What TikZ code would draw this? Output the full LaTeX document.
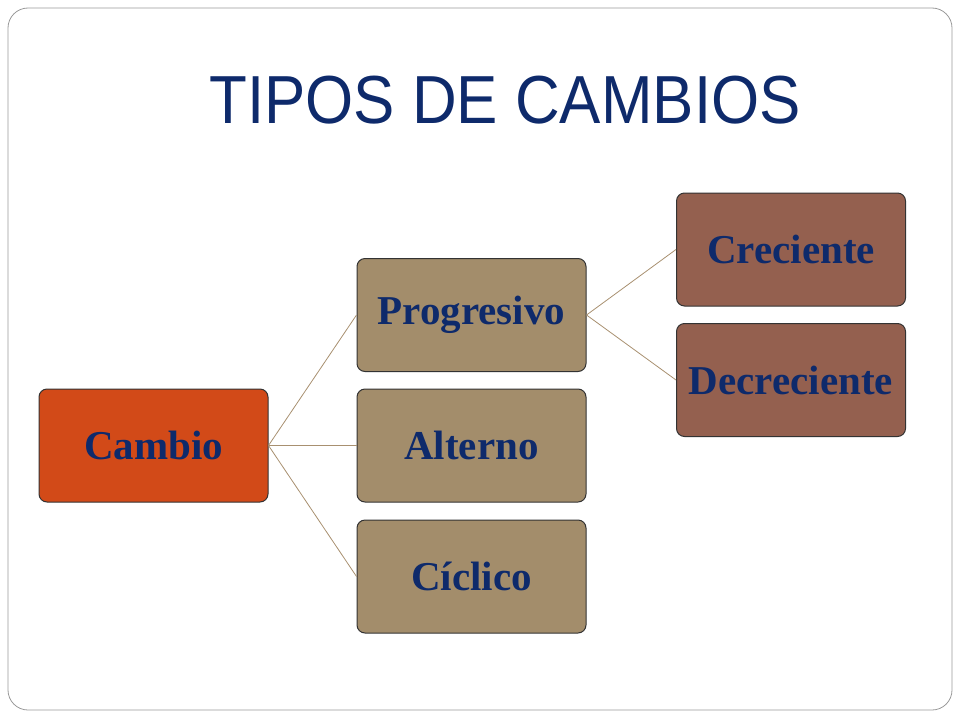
\documentclass[tikz,border=0pt]{standalone}
\usepackage{fontspec}
\setmainfont{Liberation Serif}
\newfontfamily\titlefont{Liberation Sans}
\definecolor{txtblue}{HTML}{0E2A6B}
\definecolor{orangebox}{HTML}{D24A18}
\definecolor{tanbox}{HTML}{A38D6B}
\definecolor{brownbox}{HTML}{94604F}
\definecolor{linkc}{HTML}{A89070}
\begin{document}
\begin{tikzpicture}[x=1pt,y=-1pt,
  boxs/.style={draw=black!80,line width=1pt,rounded corners=8pt,minimum width=229pt,minimum height=113pt,font=\bfseries\fontsize{41}{48}\selectfont,text=txtblue,inner sep=0pt},
  link/.style={draw=linkc,line width=0.8pt}]
\useasboundingbox (0,0) rectangle (960,720);
\draw[black!40,line width=0.8pt,rounded corners=20pt] (8,8) rectangle (952,710);
\node[font=\titlefont\fontsize{68}{76}\selectfont,text=txtblue,xscale=0.91] (title) at (505,100) {TIPOS DE CAMBIOS};
\node[boxs,fill=orangebox] (cambio) at (153.5,445.5) {Cambio};
\node[boxs,fill=tanbox] (prog) at (471.5,315) {Progresivo};
\node[boxs,fill=tanbox] (alt) at (471.5,445.5) {Alterno};
\node[boxs,fill=tanbox] (cic) at (471.5,576.5) {Cíclico};
\node[boxs,fill=brownbox] (crec) at (791,249.5) {Creciente};
\node[boxs,fill=brownbox] (decr) at (791,380) {Decreciente};
\draw[link] (cambio.east) -- (prog.west);
\draw[link] (cambio.east) -- (alt.west);
\draw[link] (cambio.east) -- (cic.west);
\draw[link] (prog.east) -- (crec.west);
\draw[link] (prog.east) -- (decr.west);
\end{tikzpicture}
\end{document}
